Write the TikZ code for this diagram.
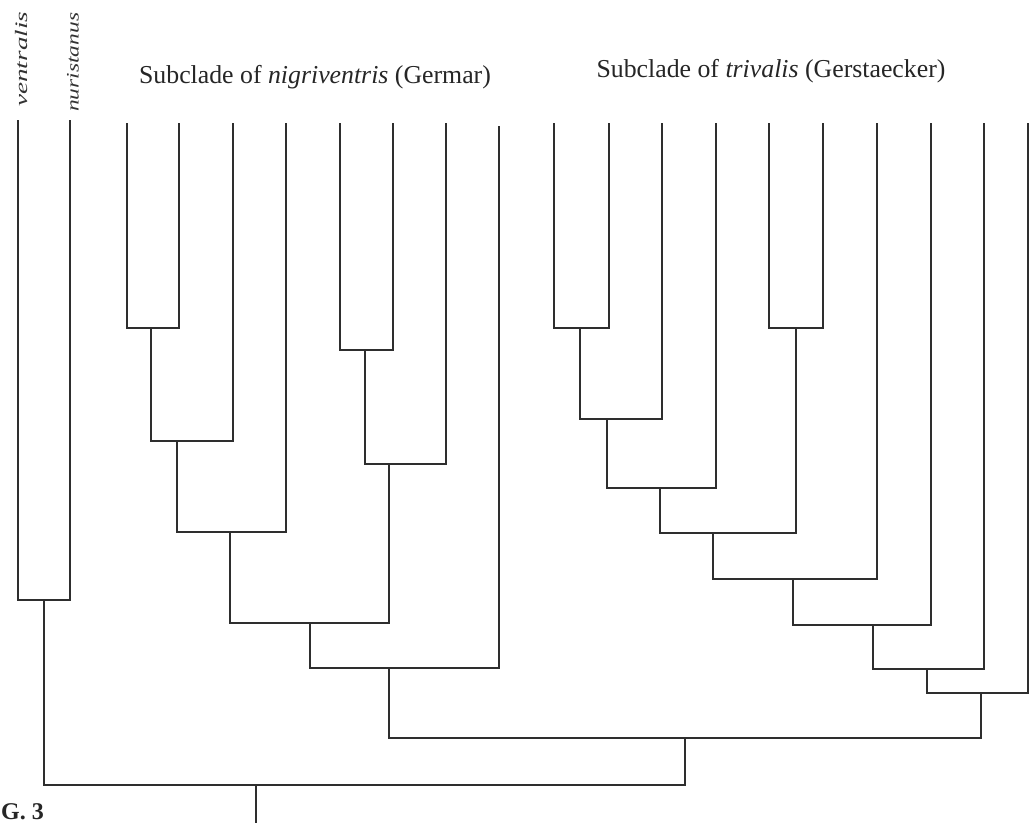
\documentclass[tikz,border=0pt]{standalone}
\usepackage{fontspec}
\setmainfont{Liberation Serif}
\begin{document}
\begin{tikzpicture}[x=1pt,y=-1pt,
  branch/.style={line width=1.8pt, draw=black!82, line join=miter},
  taxon/.style={rotate=90, anchor=west, inner sep=0pt,
                font=\fontsize{17.5}{17.5}\selectfont\itshape, text=black!80},
  cladelabel/.style={anchor=base, inner sep=0pt,
                font=\fontsize{25.8}{27}\selectfont, text=black!85},
  figlabel/.style={anchor=base west, inner sep=0pt,
                font=\fontsize{24}{25}\selectfont\bfseries, text=black!85}]
\useasboundingbox[fill=white] (0,0) rectangle (1031,823);

% tips
\coordinate (t1) at (18,120);
\coordinate (t2) at (70,120);
\coordinate (n1) at (127,123);
\coordinate (n2) at (179,123);
\coordinate (n3) at (233,123);
\coordinate (n4) at (286,123);
\coordinate (n5) at (340,123);
\coordinate (n6) at (393,123);
\coordinate (n7) at (446,123);
\coordinate (n8) at (499,126);
\coordinate (m1) at (554,123);
\coordinate (m2) at (609,123);
\coordinate (m3) at (662,123);
\coordinate (m4) at (716,123);
\coordinate (m5) at (769,123);
\coordinate (m6) at (823,123);
\coordinate (m7) at (877,123);
\coordinate (m8) at (931,123);
\coordinate (m9) at (984,123);
\coordinate (m10) at (1028,123);

% internal nodes
\coordinate (p1) at (44,600);
\coordinate (a1) at (151,328);
\coordinate (a2) at (177,441);
\coordinate (a3) at (230,532);
\coordinate (b1) at (365,350);
\coordinate (b2) at (389,464);
\coordinate (a4) at (310,623);
\coordinate (a5) at (389,668);
\coordinate (c1) at (580,328);
\coordinate (c2) at (607,419);
\coordinate (c3) at (660,488);
\coordinate (d1) at (796,328);
\coordinate (c4) at (713,533);
\coordinate (c5) at (793,579);
\coordinate (c6) at (873,625);
\coordinate (c7) at (927,669);
\coordinate (c8) at (981,693);
\coordinate (r1) at (685,738);
\coordinate (r0) at (256,785);
\coordinate (base) at (256,823);

% labels
\node[taxon, xscale=1.55] (lv) at (22,107) {ventralis};
\node[taxon, xscale=1.34] (ln) at (73,112) {nuristanus};
\node[cladelabel] (lng) at (315,83) {Subclade of \textit{nigriventris} (Germar)};
\node[cladelabel] (ltr) at (771,77) {Subclade of \textit{trivalis} (Gerstaecker)};
\node[figlabel] (fig) at (1,819) {G. 3};

% branches
\draw[branch] (t1) |- (p1);
\draw[branch] (t2) |- (p1);
\draw[branch] (n1) |- (a1);
\draw[branch] (n2) |- (a1);
\draw[branch] (a1) |- (a2);
\draw[branch] (n3) |- (a2);
\draw[branch] (a2) |- (a3);
\draw[branch] (n4) |- (a3);
\draw[branch] (n5) |- (b1);
\draw[branch] (n6) |- (b1);
\draw[branch] (b1) |- (b2);
\draw[branch] (n7) |- (b2);
\draw[branch] (a3) |- (a4);
\draw[branch] (b2) |- (a4);
\draw[branch] (a4) |- (a5);
\draw[branch] (n8) |- (a5);
\draw[branch] (m1) |- (c1);
\draw[branch] (m2) |- (c1);
\draw[branch] (c1) |- (c2);
\draw[branch] (m3) |- (c2);
\draw[branch] (c2) |- (c3);
\draw[branch] (m4) |- (c3);
\draw[branch] (m5) |- (d1);
\draw[branch] (m6) |- (d1);
\draw[branch] (c3) |- (c4);
\draw[branch] (d1) |- (c4);
\draw[branch] (c4) |- (c5);
\draw[branch] (m7) |- (c5);
\draw[branch] (c5) |- (c6);
\draw[branch] (m8) |- (c6);
\draw[branch] (c6) |- (c7);
\draw[branch] (m9) |- (c7);
\draw[branch] (c7) |- (c8);
\draw[branch] (m10) |- (c8);
\draw[branch] (a5) |- (r1);
\draw[branch] (c8) |- (r1);
\draw[branch] (p1) |- (r0);
\draw[branch] (r1) |- (r0);
\draw[branch] (r0) -- (base);
\end{tikzpicture}
\end{document}
